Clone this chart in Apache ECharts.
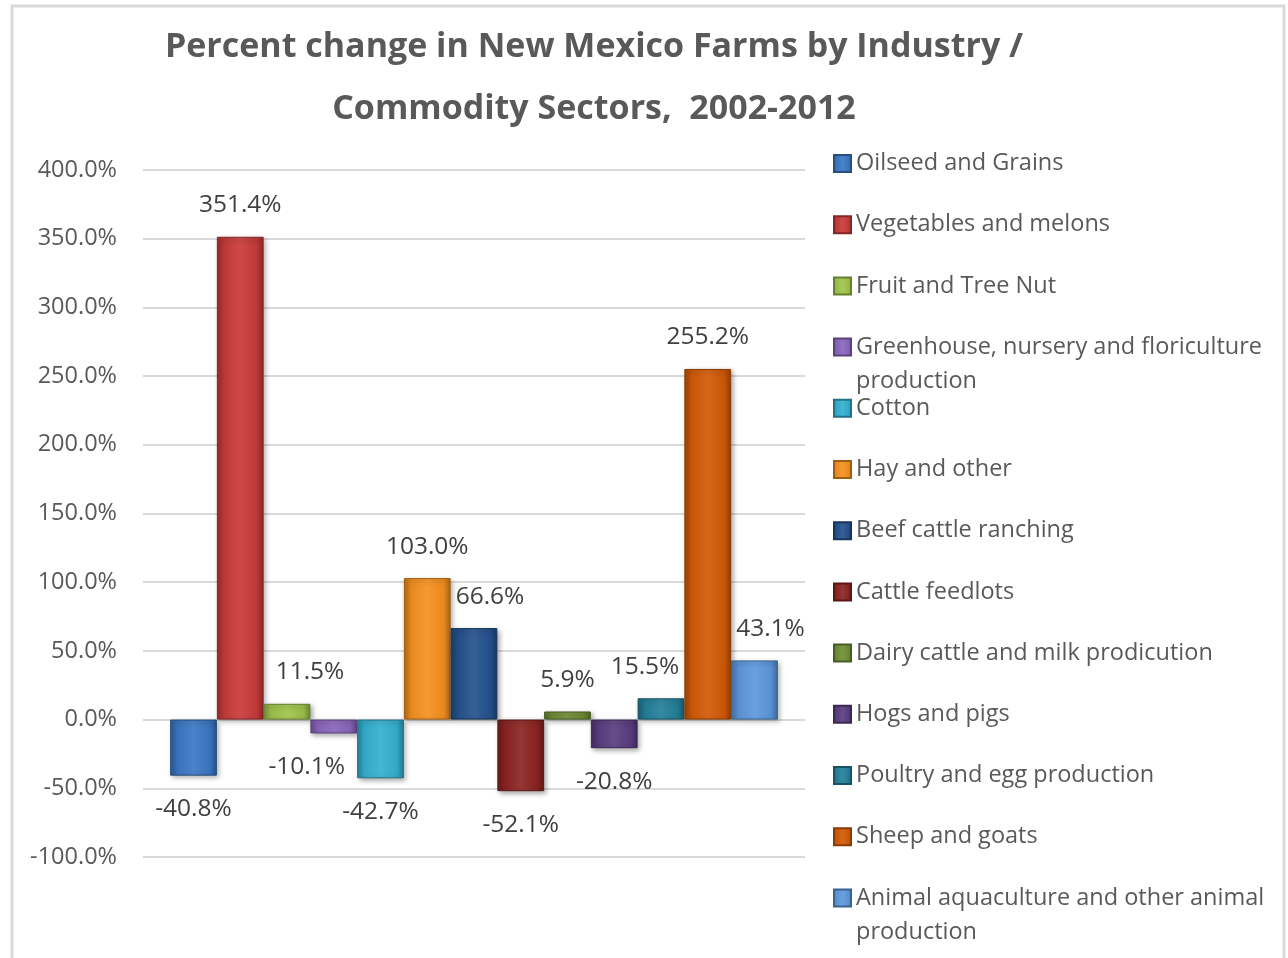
<!DOCTYPE html>
<html>
<head>
<meta charset="utf-8">
<script src="https://cdn.jsdelivr.net/npm/echarts@6/dist/echarts.min.js"></script>
<style>html,body{margin:0;padding:0;background:#fff;}#c{width:1288px;height:958px;}</style>
</head>
<body>
<div id="c"></div>
<script>
// ---- data ----
const sectors = [
  "Oilseed and Grains",
  "Vegetables and melons",
  "Fruit and Tree Nut",
  "Greenhouse, nursery and floriculture production",
  "Cotton",
  "Hay and other",
  "Beef cattle ranching",
  "Cattle feedlots",
  "Dairy cattle and milk prodicution",
  "Hogs and pigs",
  "Poultry and egg production",
  "Sheep and goats",
  "Animal aquaculture and other animal production"
];
const pctChange = [-40.8, 351.4, 11.5, -10.1, -42.7, 103.0, 66.6, -52.1, 5.9, -20.8, 15.5, 255.2, 43.1];
const categories = ["2002-2012"];
const yTicks = { min: -100, max: 400, interval: 50 };

// ---- styling ----
const baseColors = ["#3b78c4","#c93a3a","#9fc44c","#8a66bd","#35b0d0","#f4901f","#24518d","#8b2422","#6f8f36","#5a3d80","#23809a","#d25a06","#5d98dc"];
const labelShiftX = [0, 0, 23, -27, 0, 0, 16, 0, 0, 0, -16, 0, 16];
const legendSplit = {
  "Greenhouse, nursery and floriculture production": ["Greenhouse, nursery and floriculture", "production"],
  "Animal aquaculture and other animal production": ["Animal aquaculture and other animal", "production"]
};

function shade(hex, f) {
  const n = parseInt(hex.slice(1), 16);
  let r = (n >> 16) & 255, g = (n >> 8) & 255, b = n & 255;
  if (f < 0) { r = r * (1 + f); g = g * (1 + f); b = b * (1 + f); }
  else { r = r + (255 - r) * f; g = g + (255 - g) * f; b = b + (255 - b) * f; }
  return 'rgb(' + Math.round(r) + ',' + Math.round(g) + ',' + Math.round(b) + ')';
}
function grad(c) {
  return new echarts.graphic.LinearGradient(0, 0, 1, 0, [
    { offset: 0, color: shade(c, -0.25) },
    { offset: 0.15, color: shade(c, -0.05) },
    { offset: 0.5, color: shade(c, 0.08) },
    { offset: 0.85, color: shade(c, -0.05) },
    { offset: 1, color: shade(c, -0.3) }
  ]);
}

const FONT = '"Open Sans"';
const LEG_TOP = 163.5;    // centre of first legend row
const LEG_STEP = 61.2;
const chart = echarts.init(document.getElementById('c'), null, { renderer: 'canvas' });

const series = sectors.map((name, i) => {
  const v = pctChange[i];
  return {
    name: name,
    type: 'bar',
    data: [v],
    barGap: '0%',
    barCategoryGap: '8.2%',
    itemStyle: {
      color: grad(baseColors[i]),
      borderColor: shade(baseColors[i], -0.35),
      borderWidth: 1,
      shadowColor: 'rgba(0,0,0,0.35)',
      shadowBlur: 5,
      shadowOffsetX: 2,
      shadowOffsetY: 2
    },
    label: {
      show: true,
      position: v >= 0 ? 'top' : 'bottom',
      distance: v >= 0 ? 19 : 21,
      offset: [labelShiftX[i], 0],
      formatter: p => p.value.toFixed(1) + '%',
      fontFamily: FONT,
      fontSize: 24.5,
      color: '#404040'
    }
  };
});

const extraLegendText = [];
sectors.forEach((name, i) => {
  if (legendSplit[name]) {
    extraLegendText.push({
      type: 'text', x: 856, y: LEG_TOP + i * LEG_STEP + 34,
      style: { text: legendSplit[name][1], font: '23.5px ' + FONT, fill: '#595959', textVerticalAlign: 'middle' }
    });
  }
});

chart.setOption({
  backgroundColor: '#fff',
  animation: false,
  grid: { left: 143, right: 483, top: 170, bottom: 101, containLabel: false },
  xAxis: {
    type: 'category', data: categories,
    axisLine: { show: false }, axisTick: { show: false }, axisLabel: { show: false }
  },
  yAxis: {
    type: 'value', min: yTicks.min, max: yTicks.max, interval: yTicks.interval,
    axisLine: { show: false }, axisTick: { show: false },
    axisLabel: { formatter: v => v.toFixed(1) + '%', fontFamily: FONT, fontSize: 23.5, color: '#595959', margin: 26 },
    splitLine: { lineStyle: { color: '#d9d9d9', width: 2 } }
  },
  legend: {
    orient: 'vertical', left: 828, top: LEG_TOP - 12 - 5,
    icon: 'rect', itemWidth: 17, itemHeight: 17, itemGap: LEG_STEP - 24,
    data: sectors,
    formatter: n => legendSplit[n] ? legendSplit[n][0] : n,
    textStyle: { fontFamily: FONT, fontSize: 23.5, color: '#595959', lineHeight: 24 }
  },
  graphic: [
    { type: 'rect', shape: { x: 12, y: 6, width: 1272, height: 1000 }, style: { fill: 'none', stroke: '#d9d9d9', lineWidth: 3 }, silent: true, z: -1 },
    { type: 'text', x: 594, y: 47, style: { text: 'Percent change in New Mexico Farms by Industry /', font: 'bold 34px ' + FONT, fill: '#595959', textAlign: 'center', textVerticalAlign: 'middle' } },
    { type: 'text', x: 594, y: 109, style: { text: 'Commodity Sectors,  2002-2012', font: 'bold 34px ' + FONT, fill: '#595959', textAlign: 'center', textVerticalAlign: 'middle' } }
  ].concat(extraLegendText),
  series: series
});
</script>
</body>
</html>
